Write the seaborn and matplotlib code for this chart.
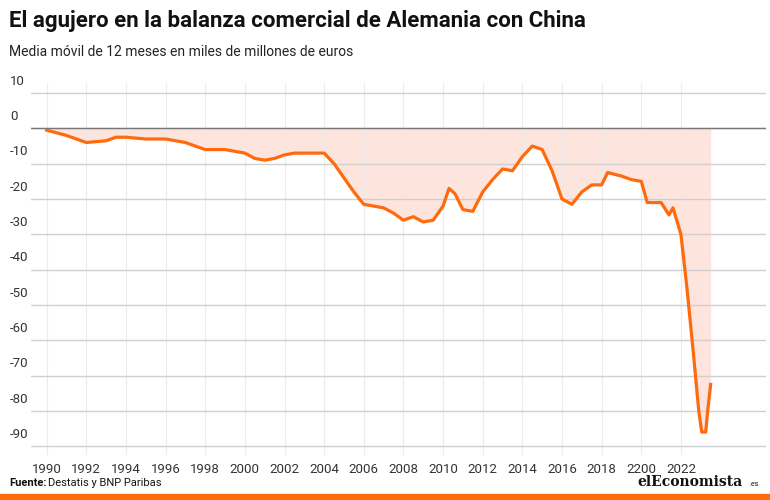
import numpy as np
import pandas as pd
import matplotlib.pyplot as plt
import seaborn as sns

# Media móvil 12 meses, miles de millones de euros
years = [1990, 1991, 1992, 1993, 1993.5, 1994, 1995, 1996, 1997, 1997.5, 1998, 1999,
         2000, 2000.5, 2001, 2001.5, 2002, 2002.5, 2003, 2003.5, 2004, 2004.5, 2005,
         2005.5, 2006, 2006.5, 2007, 2007.5, 2008, 2008.5, 2009, 2009.5, 2010, 2010.3,
         2010.6, 2011, 2011.5, 2012, 2012.5, 2013, 2013.5, 2014, 2014.5, 2015, 2015.5,
         2016, 2016.5, 2017, 2017.5, 2018, 2018.3, 2019, 2019.5, 2020, 2020.3, 2021,
         2021.4, 2021.6, 2022, 2022.3, 2022.6, 2022.9, 2023.05, 2023.25, 2023.35, 2023.5]
saldo = [-0.5, -2, -4, -3.5, -2.5, -2.5, -3, -3, -4, -5, -6, -6,
         -7, -8.5, -9, -8.5, -7.5, -7, -7, -7, -7, -10, -14,
         -18, -21.5, -22, -22.5, -24, -26, -25, -26.5, -26, -22, -17,
         -18.5, -23, -23.5, -18, -14.5, -11.5, -12, -8, -5, -6, -12,
         -20, -21.5, -18, -16, -16, -12.5, -13.5, -14.5, -15, -21, -21,
         -24.5, -22.5, -30, -45, -62, -80, -86, -86, -80, -72.5]
xticks = list(range(1990, 2023, 2))
xlabels = [str(y) for y in xticks]
xlabels[xlabels.index("2020")] = "2200"
yticks = list(range(10, -91, -10))

df = pd.DataFrame({"year": years, "saldo": saldo})
plt.rcParams["font.family"] = "Roboto"

fig = plt.figure(figsize=(7.7, 5.0), dpi=100)
ax = fig.add_axes([0.04, 0.09, 0.955, 0.745])

ax.fill_between(df["year"], 0, df["saldo"], color="#fde4dc", lw=0)
sns.lineplot(data=df, x="year", y="saldo", ax=ax, color="#ff6a0d", lw=2.3)
ax.axhline(0, color="#777777", lw=1)

ax.set_xlim(1989.2, 2026.3)
ax.set_ylim(-92.5, 13)
ax.set_xticks(xticks)
ax.set_xticklabels(xlabels, fontsize=9.5, color="#333333")
ax.set_yticks(yticks)
ax.set_yticklabels([])
for v in yticks:
    ax.text(-0.028, v + 1.5, str(v), transform=ax.get_yaxis_transform(),
            fontsize=9.5, color="#333333", ha="left", va="bottom")
ax.grid(axis="y", color="#d0d0d0", lw=1)
ax.grid(axis="x", color="#ececec", lw=0.8)
ax.tick_params(length=0, pad=6)
ax.set_xlabel("")
ax.set_ylabel("")
for s in ax.spines.values():
    s.set_visible(False)

fig.text(0.012, 0.945, "El agujero en la balanza comercial de Alemania con China",
         fontsize=16, weight="bold", color="#111111")
fig.text(0.012, 0.887, "Media móvil de 12 meses en miles de millones de euros",
         fontsize=10, color="#222222")
fig.text(0.012, 0.028, "Fuente:", fontsize=8, weight="bold", color="#111111")
fig.text(0.062, 0.028, "Destatis y BNP Paribas", fontsize=8, color="#111111")
fig.text(0.965, 0.028, "elEconomista", fontsize=10, weight="bold",
         family="DejaVu Serif", color="#111111", ha="right")
fig.text(0.985, 0.028, ".es", fontsize=5, color="#111111", ha="right")
fig.add_artist(plt.Rectangle((0, 0), 1, 0.012, color="#ff6a0d",
                             transform=fig.transFigure))

fig.savefig("out.png", dpi=100)
